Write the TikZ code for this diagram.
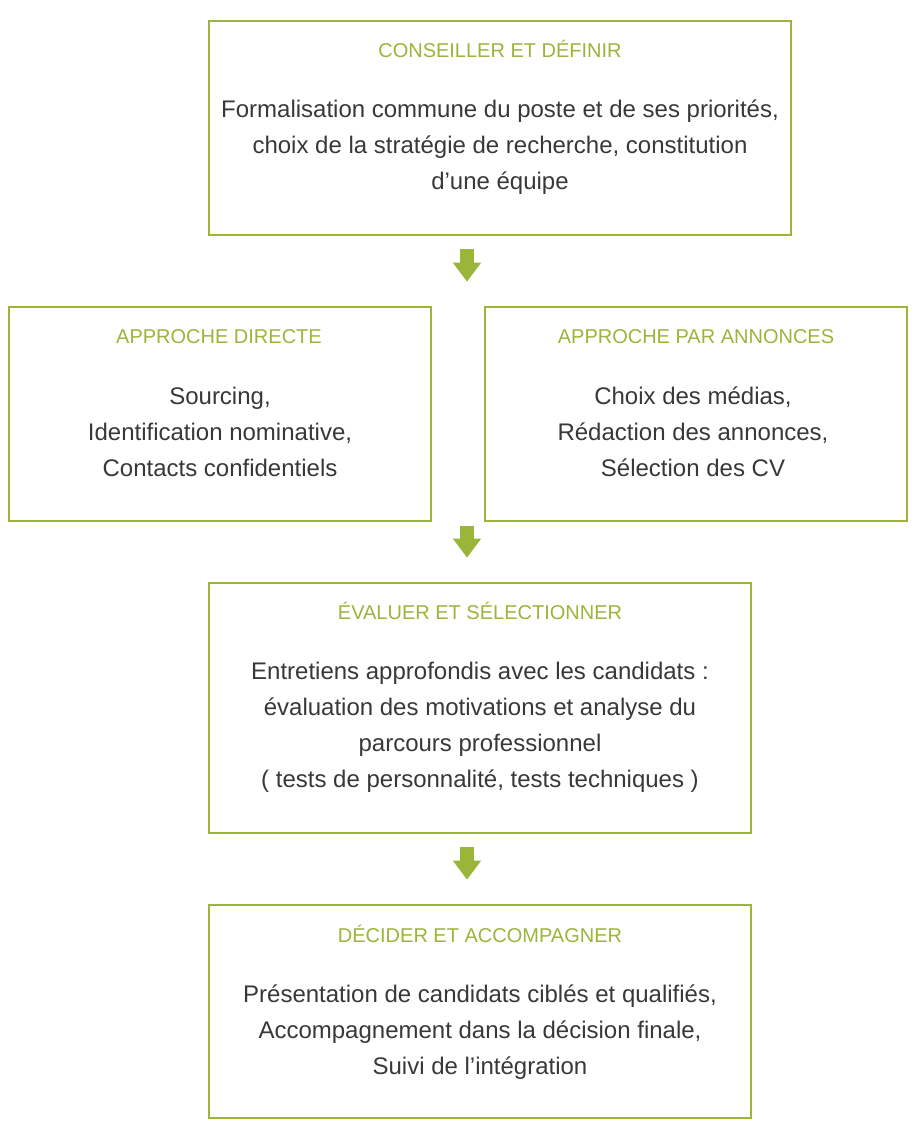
\documentclass[tikz,border=0pt]{standalone}
\usepackage{fontspec}
\setmainfont{Liberation Sans}
\usepackage{tikz}
\usetikzlibrary{arrows.meta}

\begin{document}
\begin{tikzpicture}
			[x=0.75pt,y=-0.75pt,
			%Styles
			stage/.style={draw=leaf,line width=2pt,inner sep=0pt},
			stage title/.style={text=leaf,font=\fontsize{15}{18}\selectfont,anchor=base},
			stage text/.style={text=ink,font=\fontsize{18}{27}\selectfont,align=center,anchor=base},
			step arrow/.style={draw=leaf,line width=10.5pt,line cap=butt,-{Triangle[width=20.25pt,length=14.25pt]},shorten <=9.5pt,shorten >=18pt}
			]
			
			%Colors
			\definecolor{leaf}{HTML}{9AB53A}	%frames, titles, arrows
			\definecolor{ink}{HTML}{383838}	%body text
			
			\useasboundingbox (0,0) rectangle (922,1140);
			
			%The graphic (text nodes sit on the baseline of their last line)
			\node[stage,minimum width=436.5pt,minimum height=160.5pt] (conseil) at (500,128) {};
			\node[stage title] (conseil title) at (500,57) {CONSEILLER ET DÉFINIR};
			\node[stage text] (conseil text) at (500,189.5) {Formalisation commune du poste et de ses priorités,\\choix de la stratégie de recherche, constitution\\d’une équipe};
			
			\node[stage,minimum width=316.5pt,minimum height=160.5pt] (directe) at (220,414) {};
			\node[stage title] (directe title) at (219,343) {APPROCHE DIRECTE};
			\node[stage text] (directe text) at (220,476.5) {Sourcing,\\Identification nominative,\\Contacts confidentiels};
			
			\node[stage,minimum width=316.5pt,minimum height=160.5pt] (annonces) at (696,414) {};
			\node[stage title] (annonces title) at (696,343) {APPROCHE PAR ANNONCES};
			\node[stage text] (annonces text) at (693,476.5) {Choix des médias,\\Rédaction des annonces,\\Sélection des CV};
			
			\node[stage,minimum width=406.5pt,minimum height=187.5pt] (evaluer) at (480,708) {};
			\node[stage title] (evaluer title) at (480,619) {ÉVALUER ET SÉLECTIONNER};
			\node[stage text] (evaluer text) at (480,787.5) {Entretiens approfondis avec les candidats :\\évaluation des motivations et analyse du\\parcours professionnel\\( tests de personnalité, tests techniques )};
			
			\node[stage,minimum width=406.5pt,minimum height=159.75pt] (decider) at (480,1011.5) {};
			\node[stage title] (decider title) at (480,942) {DÉCIDER ET ACCOMPAGNER};
			\node[stage text] (decider text) at (480,1074.5) {Présentation de candidats ciblés et qualifiés,\\Accompagnement dans la décision finale,\\Suivi de l’intégration};
			
			\coordinate (mid) at (467,0);
			\draw[step arrow] (conseil.south -| mid) -- (directe.north -| mid);
			\draw[step arrow,shorten <=2.5pt] (directe.south -| mid) -- (evaluer.north -| mid);
			\draw[step arrow] (evaluer.south -| mid) -- (decider.north -| mid);
		\end{tikzpicture}
\end{document}
